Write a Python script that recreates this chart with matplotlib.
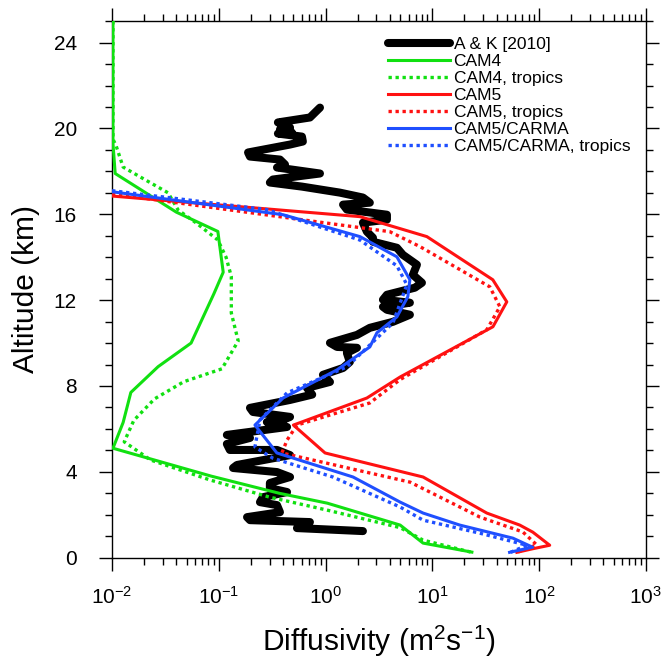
import matplotlib
matplotlib.use('Agg')
import matplotlib.pyplot as plt
from matplotlib.ticker import LogLocator, LogFormatterMathtext, MultipleLocator

plt.rcParams['font.family'] = ['Liberation Sans', 'DejaVu Sans']
plt.rcParams['mathtext.fontset'] = 'custom'
plt.rcParams['mathtext.rm'] = 'Liberation Sans'
plt.rcParams['mathtext.it'] = 'Liberation Sans:italic'
plt.rcParams['mathtext.default'] = 'regular'

# A & K [2010] observed profile (diffusivity, altitude km)
ak_diff = [0.887, 0.714, 0.358, 0.465, 0.374, 0.484, 0.358, 0.601, 0.613, 0.465,
           0.188, 0.196, 0.374, 0.417, 0.351, 0.887, 0.321, 0.301, 0.601, 1.36,
           2.24, 2.60, 1.46, 1.585, 3.76, 3.76, 2.24, 2.44, 2.78, 2.78,
           4.66, 5.31, 7.18, 6.58, 8.0, 6.87, 3.76, 3.45, 6.17, 3.45,
           3.76, 6.17, 4.28, 2.60, 1.97, 1.10, 1.28, 1.97, 1.585, 1.69,
           1.46, 0.946, 1.10, 0.67, 0.75, 0.465, 0.196, 0.209, 0.465, 0.399,
           0.282, 0.436, 0.119, 0.196, 0.119, 0.127, 0.351, 0.465, 0.148, 0.136,
           0.351, 0.465, 0.301, 0.301, 0.436, 0.259, 0.243, 0.351, 0.374, 0.184,
           0.196, 0.714, 0.540, 2.24]
ak_alt = [20.97, 20.51, 20.28, 20.04, 19.95, 19.81, 19.76, 19.62, 19.39, 19.25,
          18.88, 18.69, 18.55, 18.32, 18.18, 17.90, 17.62, 17.48, 17.29, 17.01,
          16.78, 16.54, 16.45, 16.22, 15.98, 15.75, 15.61, 15.19, 14.91, 14.72,
          14.44, 14.11, 13.65, 13.18, 12.81, 12.58, 12.25, 12.02, 11.88, 11.69,
          11.55, 11.32, 10.99, 10.71, 10.38, 10.01, 9.82, 9.78, 9.54, 9.12,
          8.84, 8.52, 8.19, 7.91, 7.6, 7.35, 6.98, 6.79, 6.56, 6.42,
          6.32, 6.09, 5.72, 5.58, 5.30, 5.02, 5.02, 4.78, 4.32, 4.18,
          3.99, 3.76, 3.48, 3.24, 3.06, 2.82, 2.59, 2.45, 2.12, 1.89,
          1.75, 1.66, 1.38, 1.24]

cam4_diff = [0.0102, 0.0102, 0.0107, 0.04, 0.098, 0.11, 0.09, 0.055, 0.027, 0.015,
             0.0127, 0.0102, 0.085, 0.37, 1.04, 5.0, 8.2, 23.5]
cam4_alt = [25, 19.3, 17.9, 16.1, 15.2, 13.3, 12.3, 10.0, 8.9, 7.7,
            6.3, 5.1, 3.8, 3.0, 2.54, 1.52, 0.68, 0.26]

cam4t_diff = [0.0102, 0.0102, 0.0109, 0.0127, 0.0175, 0.0335, 0.0416, 0.0613, 0.098, 0.117,
              0.131, 0.131, 0.152, 0.107, 0.047, 0.025, 0.016, 0.013, 0.023, 0.083,
              0.3, 1.03, 5.0, 8.2, 23.0]
cam4t_alt = [25, 19.5, 19.2, 18.2, 17.8, 17.0, 16.2, 15.6, 14.8, 14.0,
             13.1, 11.4, 10.1, 8.8, 8.2, 7.4, 6.4, 5.4, 4.55, 3.62,
             2.82, 2.22, 1.4, 0.82, 0.26]

cam5_diff = [0.01, 2.1, 8.9, 36.9, 49.9, 37.0, 5.0, 2.44, 0.50, 0.99,
             8.2, 32.4, 66.0, 87.5, 126.0, 88.0, 62.0]
cam5_alt = [16.85, 15.89, 14.96, 12.95, 11.92, 10.76, 8.42, 7.44, 6.18, 4.88,
            3.76, 2.08, 1.52, 1.19, 0.58, 0.42, 0.25]

cam5t_diff = [0.01, 4.0, 7.7, 34.6, 43.0, 32.4, 5.0, 2.6, 0.54, 0.436,
              0.39, 6.2, 28.0, 70.5, 95.0, 62.0]
cam5t_alt = [16.95, 15.19, 14.49, 12.62, 11.69, 10.62, 8.3, 7.21, 6.18, 5.48,
             4.88, 3.52, 1.89, 1.2, 0.6, 0.25]

carma_diff = [0.01, 0.40, 2.1, 4.66, 6.17, 5.9, 4.66, 3.03, 2.6, 1.28,
              0.40, 0.218, 0.35, 1.81, 5.0, 8.2, 18.1, 57.0, 87.0, 53.0]
carma_alt = [17.05, 15.98, 14.96, 14.02, 12.95, 12.16, 11.22, 10.48, 9.82, 8.75,
             7.44, 6.18, 4.88, 3.76, 2.59, 2.08, 1.52, 0.91, 0.49, 0.25]

carmat_diff = [0.01, 0.28, 2.1, 4.66, 5.78, 4.28, 1.585, 0.436, 0.243, 0.218,
               0.32, 1.17, 5.0, 8.2, 28.0, 77.0, 53.0]
carmat_alt = [17.1, 16.22, 14.8, 13.6, 12.72, 10.94, 8.89, 7.68, 6.42, 5.16,
              4.64, 3.76, 2.36, 1.75, 1.14, 0.58, 0.23]

green = '#11e011'
red = '#ff1111'
blue = '#1f4fff'
dot = (0, (1, 1.1))

fig = plt.figure(figsize=(6.63, 6.60), dpi=100)
ax = fig.add_axes([0.169, 0.155, 0.805, 0.813])

ax.plot(ak_diff, ak_alt, color='black', lw=5.8, solid_capstyle='round',
        solid_joinstyle='round', label='A & K [2010]', zorder=2)
ax.plot(cam4_diff, cam4_alt, color=green, lw=2.2, label='CAM4', zorder=3)
ax.plot(cam4t_diff, cam4t_alt, color=green, lw=2.4, ls=dot, label='CAM4, tropics', zorder=3)
ax.plot(cam5_diff, cam5_alt, color=red, lw=2.2, label='CAM5', zorder=3)
ax.plot(cam5t_diff, cam5t_alt, color=red, lw=2.4, ls=dot, label='CAM5, tropics', zorder=3)
ax.plot(carma_diff, carma_alt, color=blue, lw=2.2, label='CAM5/CARMA', zorder=4)
ax.plot(carmat_diff, carmat_alt, color=blue, lw=2.4, ls=dot, label='CAM5/CARMA, tropics', zorder=4)

ax.set_xscale('log')
ax.set_xlim(1e-2, 1e3)
ax.set_ylim(0, 25)
ax.xaxis.set_major_locator(LogLocator(base=10, numticks=10))
ax.xaxis.set_major_formatter(LogFormatterMathtext())
ax.xaxis.set_minor_locator(LogLocator(base=10, subs=range(2, 10), numticks=20))
ax.yaxis.set_major_locator(MultipleLocator(4))
ax.yaxis.set_minor_locator(MultipleLocator(1))

ax.tick_params(which='both', direction='out', top=True, right=True, width=1.0)
ax.tick_params(which='major', length=9.4, labelsize=15)
ax.tick_params(which='minor', length=5)
ax.tick_params(axis='x', which='major', pad=11)
ax.tick_params(axis='y', which='major', pad=16)
for s in ax.spines.values():
    s.set_linewidth(1.0)

ax.set_xlabel('Diffusivity (m$^2$s$^{-1}$)', fontsize=21.5)
ax.set_ylabel('Altitude (km)', fontsize=21.5)
ax.xaxis.set_label_coords(0.5, -0.124)
ax.yaxis.set_label_coords(-0.135, 0.5)

leg = ax.legend(loc='upper right', bbox_to_anchor=(1.0, 1.0), frameon=False,
                fontsize=12.5, handlelength=3.6, handletextpad=0.2,
                labelspacing=0.11, borderaxespad=0.5)

fig.savefig('out.png', dpi=100)
